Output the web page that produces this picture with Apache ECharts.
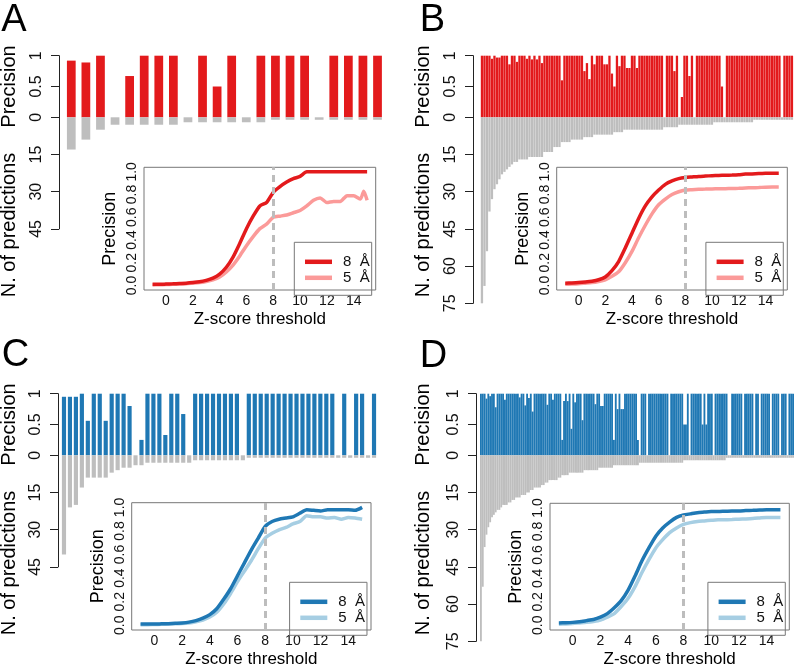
<!DOCTYPE html>
<html><head><meta charset="utf-8">
<script src="https://cdn.jsdelivr.net/npm/echarts@6/dist/echarts.min.js"></script>
<style>html,body{margin:0;padding:0;background:#fff}#c{width:796px;height:669px}</style>
</head><body><div id="c"></div>
<script>
// ---------------- DATA ----------------
// Panel A (per-prediction precision and number of predictions)
const precA = [0.92,0.89,1,0,0.67,1,1,1,0,1,0.5,1,0,1,1,1,1,0,1,1,1,1];
const nA    = [13,9,5,3,3,3,3,3,2,2,2,2,2,2,1,1,1,1,1,1,1,1];

// Panel B
const precB = [
 1,1,1,1,0.95,1,0.97,0.97,1,1,
 1,0.86,1,1,0.9,1,1,1,0.95,1,
 0.94,1,0.94,1,0.88,1,1,1,1,1,
 1,1,0.6,1,1,1,1,1,1,1,
 1,0.75,0.88,0.62,1,0.86,1,1,1,0.86,
 0.86,1,0.71,0.5,1,0.83,1,1,0.8,0.8,
 1,1,0.8,1,1,1,1,1,1,1,
 1,1,1,0,1,1,1,0.75,1,0,
 0.33,1,1,0.67,1,0,1,1,1,1,
 1,1,1,1,1,1,0.5,0,1,1,
 1,1,1,1,1,1,1,1,1,1,
 1,1,1,1,1,1,1,1,1,1,
 0,1,1,1,1];
const nB = [
 75,68,54,38,33,29,27,25,23,22,
 21,20,19,18,18,17,17,17,17,16,
 16,16,16,16,16,14,14,14,14,12,
 12,12,10,10,10,10,9,9,9,9,
 9,8,8,8,8,7,7,7,7,7,
 7,7,7,6,6,6,6,5,5,5,
 5,5,5,5,5,5,5,5,5,5,
 5,5,5,4,4,4,4,4,4,3,
 3,3,3,3,3,3,3,3,3,3,
 3,3,3,2,2,2,2,2,2,2,
 2,2,2,2,2,2,2,2,2,1,
 1,1,1,1,1,1,1,1,1,1,
 1,1,1,1,1];

// Panel C
const precC = [0.95,0.95,0.95,1,0.56,1,1,0.56,1,1,1,0.8,0,0.25,1,1,1,0.33,1,1,0.67,0,
 1,1,1,1,1,1,1,1,0,
 1,1,1,1,1,1,1,1,1,1,1,1,1,1,1,0,1,0,1,1,0,1];
const nC = [40,21,20,13,9,9,9,9,7,6,5,5,4,4,3,3,3,3,3,3,3,3,
 2,2,2,2,2,2,2,2,2,
 1,1,1,1,1,1,1,1,1,1,1,1,1,1,1,1,1,1,1,1,1,1];

// Panel D
const precD = [
 1,1,1,0.92,1,0.96,1,1,0.78,1,
 1,1,1,0.9,1,1,1,1,1,1,
 1,0.94,1,1,0.81,1,0.93,1,0.71,1,
 1,1,1,1,1,1,0.82,1,1,0.9,
 1,1,1,1,0.25,0.88,1,0.88,1,0.43,
 1,0.86,1,1,1,0.57,1,1,1,1,
 1,1,0.83,1,1,0.8,0.8,1,1,1,
 1,1,0.25,1,0.75,1,0.75,0.75,1,1,
 1,1,1,1,1,0.25,0,1,1,1,
 0,1,1,1,1,1,1,1,1,1,
 1,1,0,1,1,1,1,1,1,1,
 0.5,0.5,1,0,1,1,1,1,1,1,
 0.5,1,0.5,1,1,1,0,1,1,1,
 1,1,1,1,0,0,1,1,1,1,
 1,1,0,1,1,1,1,1,0,1,
 1,0,1,1,1,1,1,0,1,1,
 1,1,0,1,1,1,0,1,1,1];
const nD = [
 75,53,37,32,29,27,25,24,23,22,
 22,21,20,20,20,19,19,18,18,17,
 17,17,16,16,16,15,15,14,14,13,
 13,13,13,12,12,11,11,10,10,10,
 10,10,9,9,8,8,8,8,7,7,
 7,7,7,7,7,7,6,6,6,6,
 6,6,6,6,5,5,5,5,5,5,
 5,5,4,4,4,4,4,4,4,4,
 4,4,4,4,4,4,3,3,3,3,
 3,3,3,3,3,3,3,3,3,3,
 3,3,3,3,3,3,3,3,3,3,
 2,2,2,2,2,2,2,2,2,2,
 2,2,2,2,2,2,2,2,2,2,
 2,2,2,1,1,1,1,1,1,1,
 1,1,1,1,1,1,1,1,1,1,
 1,1,1,1,1,1,1,1,1,1,
 1,1,1,1,1,1,1,1,1,1];

// Inset curves: precision vs Z-score threshold
const zA = [-1,-0.5,0,0.5,1,1.5,2,2.5,3,3.5,4,4.5,5,5.5,6,6.5,7,7.5,8,8.5,9,9.5,10,10.5,11,11.5,12,12.5,13,13.5,14,14.5,14.75,15];
const a8 = [0.01,0.01,0.012,0.014,0.017,0.02,0.025,0.032,0.045,0.065,0.1,0.16,0.25,0.37,0.5,0.61,0.7,0.73,0.82,0.87,0.91,0.94,0.96,1,1,1,1,1,1,1,1,1,1,1];
const a5 = [0.005,0.006,0.008,0.01,0.012,0.015,0.02,0.025,0.035,0.05,0.075,0.12,0.18,0.26,0.35,0.43,0.5,0.54,0.6,0.61,0.62,0.64,0.66,0.7,0.75,0.77,0.73,0.74,0.74,0.79,0.79,0.76,0.83,0.75];

const zStep = [-1,-0.5,0,0.5,1,1.5,2,2.5,3,3.5,4,4.5,5,5.5,6,6.5,7,7.5,8,8.5,9,9.5,10,10.5,11,11.5,12,12.5,13,13.5,14,14.5,15];
const b8 = [0.02,0.022,0.025,0.03,0.037,0.05,0.075,0.13,0.21,0.33,0.46,0.59,0.7,0.78,0.84,0.89,0.92,0.94,0.95,0.955,0.96,0.963,0.966,0.968,0.97,0.972,0.975,0.98,0.982,0.985,0.987,0.988,0.988];
const b5 = [0.01,0.012,0.015,0.02,0.025,0.035,0.05,0.08,0.12,0.2,0.3,0.42,0.53,0.63,0.71,0.76,0.8,0.825,0.84,0.843,0.846,0.848,0.85,0.851,0.852,0.853,0.855,0.858,0.86,0.862,0.865,0.866,0.866];
const c8 = [0.01,0.01,0.01,0.012,0.014,0.017,0.02,0.027,0.04,0.06,0.09,0.14,0.22,0.31,0.42,0.53,0.64,0.74,0.84,0.88,0.9,0.91,0.92,0.95,0.98,0.975,0.97,0.98,0.98,0.98,0.98,0.975,1.0];
const c5 = [0.005,0.005,0.007,0.008,0.01,0.012,0.015,0.02,0.03,0.045,0.07,0.11,0.18,0.27,0.37,0.46,0.55,0.65,0.74,0.78,0.81,0.83,0.86,0.88,0.93,0.92,0.92,0.91,0.915,0.9,0.915,0.91,0.9];
const d8 = [0.02,0.022,0.025,0.03,0.04,0.05,0.07,0.1,0.15,0.21,0.3,0.42,0.55,0.66,0.76,0.83,0.88,0.92,0.94,0.95,0.96,0.965,0.97,0.97,0.973,0.975,0.975,0.978,0.98,0.983,0.985,0.985,0.985];
const d5 = [0.01,0.012,0.015,0.02,0.025,0.033,0.045,0.07,0.1,0.16,0.23,0.33,0.45,0.56,0.66,0.73,0.79,0.83,0.86,0.875,0.885,0.89,0.895,0.9,0.9,0.902,0.905,0.907,0.91,0.915,0.92,0.92,0.92];

// Tick labels
const nTicks45 = [0, 15, 30, 45];
const nTicks75 = [0, 15, 30, 45, 60, 75];
const zTicks = [0, 2, 4, 6, 8, 10, 12, 14];
const pTicks = [0, 0.2, 0.4, 0.6, 0.8, 1.0];
const legendLabels = ['8  Å', '5  Å'];
const panelLetters = ['A', 'B', 'C', 'D'];

// ---------------- LAYOUT / STYLE ----------------
const FONT = "'Liberation Sans', Arial, Helvetica, sans-serif";
const RED = '#e31a1c', PINK = '#fb9a99', BLUE = '#1f78b4', LBLUE = '#a6cee3', GRAY = '#bebebe';
const PX_PER_N = 2.48;

const panels = [
 {ox:0,   oy:0,   prec:precA, n:nA, nTicks:nTicks45, bar:RED,  c8:RED,  c5:PINK,  barLeft:64,   barW:320.8, gap:'40%', axisX:59,
  inset:[144,167.3,231.7,122.7], letter:[14,21],   z:zA,    l8:a8, l5:a5},
 {ox:414, oy:0,   prec:precB, n:nB, nTicks:nTicks75, bar:RED,  c8:RED,  c5:PINK,  barLeft:66.7, barW:312.5, gap:'8%', axisX:59,
  inset:[142.7,167.3,230.6,122.7], letter:[18.5,21], z:zStep, l8:b8, l5:b5},
 {ox:0,   oy:338, prec:precC, n:nC, nTicks:nTicks45, bar:BLUE, c8:BLUE, c5:LBLUE, barLeft:61,   barW:316,   gap:'30%', axisX:58,
  inset:[131.7,164.7,239.3,127.3], letter:[15.5,18], z:zStep, l8:c8, l5:c5},
 {ox:414, oy:338, prec:precD, n:nD, nTicks:nTicks75, bar:BLUE, c8:BLUE, c5:LBLUE, barLeft:66,   barW:314,   gap:'0%', axisX:62,
  inset:[136,165.3,239.3,126.7], letter:[19.5,18.5], z:zStep, l8:d8, l5:d5}
];

const grid = [], xAxis = [], yAxis = [], series = [], legend = [], graphic = [];

function txt(x, y, text, size, rot) {
  return {type:'text', x:x, y:y, rotation:rot || 0, silent:true, z:100,
    style:{text:text, x:0, y:0, font: size + 'px ' + FONT, fill:'#000',
      textAlign:'center', textVerticalAlign:'middle', align:'center', verticalAlign:'middle'}};
}

panels.forEach((p, k) => {
  const g = grid.length;
  const nMax = p.nTicks[p.nTicks.length - 1];
  grid.push({left:p.ox+p.barLeft, top:p.oy+55.7, width:p.barW, height:61.6, show:false, containLabel:false, outerBoundsMode:'none'});
  grid.push({left:p.ox+p.barLeft, top:p.oy+117.3, width:p.barW, height:nMax*PX_PER_N, show:false, containLabel:false, outerBoundsMode:'none'});
  grid.push({left:p.ox+p.inset[0], top:p.oy+p.inset[1], width:p.inset[2], height:p.inset[3], show:true,
    borderColor:'#777', borderWidth:1, backgroundColor:'transparent', containLabel:false, outerBoundsMode:'none'});

  const cats = p.prec.map((_, i) => i);
  xAxis.push({type:'category', gridIndex:g, data:cats, show:false});
  xAxis.push({type:'category', gridIndex:g+1, data:cats, show:false});
  xAxis.push({type:'value', gridIndex:g+2, min:-1.64, max:15.64,
    axisLine:{show:false}, axisTick:{show:false},
    axisLabel:{customValues:zTicks, margin:4, fontSize:14, color:'#111', fontFamily:FONT},
    splitLine:{show:false}});

  const off = p.barLeft - p.axisX;
  const axLine = {show:true, onZero:false, lineStyle:{color:'#222', width:1}};
  yAxis.push({type:'value', gridIndex:g, min:0, max:1, interval:0.5, offset:off,
    axisLine:axLine, axisTick:{show:true, length:8, lineStyle:{color:'#222', width:1}},
    axisLabel:{rotate:90, margin:14, fontSize:16, color:'#111', fontFamily:FONT, formatter:v => String(v)},
    splitLine:{show:false}});
  yAxis.push({type:'value', gridIndex:g+1, min:0, max:nMax, interval:15, inverse:true, offset:off,
    axisLine:axLine, axisTick:{show:true, length:8, lineStyle:{color:'#222', width:1}},
    axisLabel:{rotate:90, margin:14, fontSize:16, color:'#111', fontFamily:FONT, formatter:v => (v === 0 ? '' : String(v))},
    splitLine:{show:false}});
  yAxis.push({type:'value', gridIndex:g+2, min:-0.04, max:1.04,
    axisLine:{show:false}, axisTick:{show:false},
    axisLabel:{customValues:pTicks, rotate:90, margin:5, fontSize:14, color:'#111', fontFamily:FONT, formatter:v => v.toFixed(1)},
    splitLine:{show:false}});

  series.push({type:'bar', xAxisIndex:g, yAxisIndex:g, data:p.prec, barCategoryGap:p.gap,
    itemStyle:{color:p.bar}, silent:true, animation:false});
  series.push({type:'bar', xAxisIndex:g+1, yAxisIndex:g+1, data:p.n, barCategoryGap:p.gap,
    itemStyle:{color:GRAY}, silent:true, animation:false});

  const n5 = 'p' + k + '_5', n8 = 'p' + k + '_8';
  series.push({type:'line', name:n5, xAxisIndex:g+2, yAxisIndex:g+2,
    data:p.z.map((x, i) => [x, p.l5[i]]), showSymbol:false, symbol:'none', smooth:0.2,
    lineStyle:{width:3.5, color:p.c5}, itemStyle:{color:p.c5}, silent:true, animation:false,
    markLine:{silent:true, symbol:['none','none'], label:{show:false}, animation:false,
      lineStyle:{color:'#bdbdbd', type:[7,5], width:3}, data:[{xAxis:8}]}});
  series.push({type:'line', name:n8, xAxisIndex:g+2, yAxisIndex:g+2,
    data:p.z.map((x, i) => [x, p.l8[i]]), showSymbol:false, symbol:'none', smooth:0.2,
    lineStyle:{width:3.5, color:p.c8}, itemStyle:{color:p.c8}, silent:true, animation:false});

  const ir = p.inset[0] + p.inset[2], ib = p.inset[1] + p.inset[3];
  legend.push({orient:'vertical', left:p.ox+ir-81.4, top:p.oy+ib-47.7, data:[n8, n5],
    icon:'rect', itemWidth:27, itemHeight:4.5, itemGap:1, selectedMode:false,
    padding:[12,2,10,10.7], borderColor:'#777', borderWidth:1, borderRadius:0, backgroundColor:'transparent',
    formatter: name => (name.endsWith('_8') ? legendLabels[0] : legendLabels[1]),
    textStyle:{fontSize:15, lineHeight:12, color:'#111', fontFamily:FONT, padding:[0,0,0,6]}});

  graphic.push(txt(p.ox+p.letter[0], p.oy+p.letter[1], panelLetters[k], 38, 0));
  graphic.push(txt(p.ox+9, p.oy+86.5, 'Precision', 20, Math.PI/2));
  graphic.push(txt(p.ox+9, p.oy+225, 'N. of predictions', 20, Math.PI/2));
  graphic.push(txt(p.ox+p.inset[0]-34, p.oy+p.inset[1]+p.inset[3]/2, 'Precision', 18, Math.PI/2));
  graphic.push(txt(p.ox+p.inset[0]+p.inset[2]/2, p.oy+ib+29, 'Z-score threshold', 17, 0));
});

const chart = echarts.init(document.getElementById('c'), null, {renderer:'canvas', width:796, height:669});
chart.setOption({
  animation:false,
  backgroundColor:'#fff',
  textStyle:{fontFamily:FONT},
  grid, xAxis, yAxis, series, legend, graphic
});
</script>
</body></html>
